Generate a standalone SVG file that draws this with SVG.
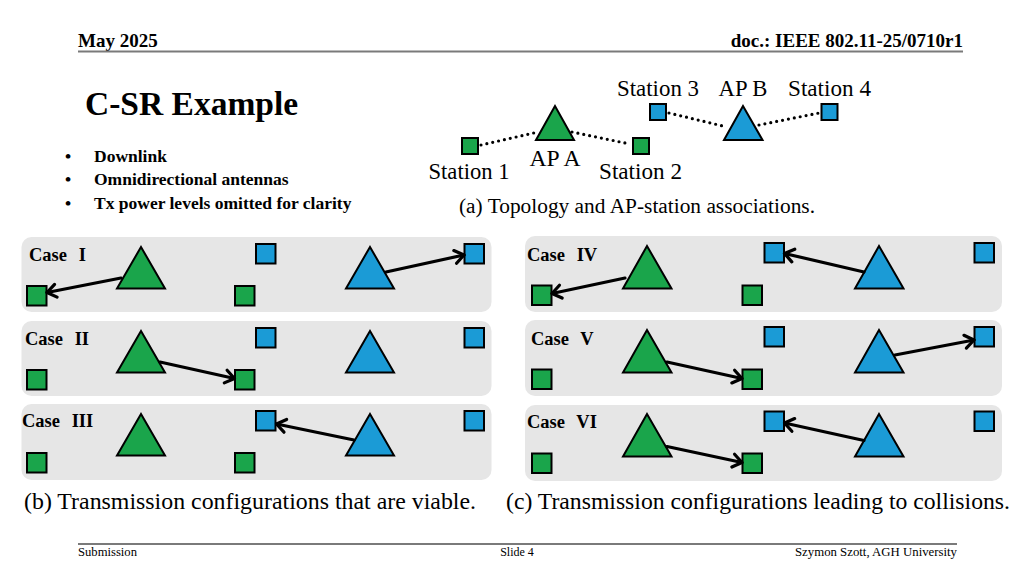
<svg xmlns="http://www.w3.org/2000/svg" width="1024" height="576" viewBox="0 0 1024 576">
<style>
text{font-family:"Liberation Serif","Times New Roman",serif;fill:#000}
.hdr{font-size:19px;font-weight:bold}
.ftr{font-size:12px}
.bul{font-size:17.5px;font-weight:bold}
.lbl{font-size:22.5px}
.cap{font-size:23px}
.case{font-size:18.5px;font-weight:bold;word-spacing:7px}
.g{fill:#1aa54b;stroke:#000;stroke-width:2}
.b{fill:#1b9bd6;stroke:#000;stroke-width:2}
.panel{fill:#e6e6e6}
.dot{stroke:#000;stroke-width:3.2;stroke-linecap:round;stroke-dasharray:0 6;fill:none}
.arr{stroke:#000;stroke-width:3.2;stroke-linecap:round;fill:none;marker-end:url(#ah)}
</style>
<defs>
<marker id="ah" markerUnits="userSpaceOnUse" markerWidth="18" markerHeight="18" viewBox="0 0 18 18" refX="13" refY="9" orient="auto">
<path d="M4,2.5 L13,9 L4,15.5" fill="none" stroke="#000" stroke-width="3.2" stroke-linecap="round" stroke-linejoin="round"/>
</marker>
<rect id="sq" width="19.5" height="19.5"/>
</defs>
<rect width="1024" height="576" fill="#fff"/>

<g id="header">
<text class="hdr" x="78" y="47">May 2025</text>
<text class="hdr" x="963" y="47" text-anchor="end">doc.: IEEE 802.11-25/0710r1</text>
<line x1="78" y1="51.5" x2="963" y2="51.5" stroke="#7a7a7a" stroke-width="2"/>
</g>

<g id="title">
<text x="85" y="115" font-size="33.5" font-weight="bold">C-SR Example</text>
<text class="bul" x="65" y="161.5">•</text><text class="bul" x="94" y="161.5">Downlink</text>
<text class="bul" x="65" y="185">•</text><text class="bul" x="94" y="185">Omnidirectional antennas</text>
<text class="bul" x="65" y="208.5">•</text><text class="bul" x="94" y="208.5">Tx power levels omitted for clarity</text>
</g>

<g id="topology">
<g id="topo-connectors">
<line class="dot" x1="481" y1="145" x2="538" y2="132"/>
<line class="dot" x1="572" y1="132" x2="630" y2="144"/>
<line class="dot" x1="669" y1="113" x2="727" y2="127"/>
<line class="dot" x1="759" y1="125" x2="819" y2="113"/>
</g>
<g id="station1"><rect class="g" x="462" y="138" width="16" height="16"/><text class="lbl" x="469" y="179" text-anchor="middle" textLength="81" lengthAdjust="spacingAndGlyphs">Station 1</text></g>
<g id="apA"><polygon class="g" points="555,106 536,140 574,140"/><text class="lbl" x="555" y="165.5" text-anchor="middle" textLength="51" lengthAdjust="spacingAndGlyphs">AP A</text></g>
<g id="station2"><rect class="g" x="633" y="138" width="16" height="16"/><text class="lbl" x="640.5" y="179" text-anchor="middle" textLength="83" lengthAdjust="spacingAndGlyphs">Station 2</text></g>
<g id="station3"><rect class="b" x="650" y="104" width="16" height="16"/><text class="lbl" x="658" y="95.5" text-anchor="middle" textLength="82" lengthAdjust="spacingAndGlyphs">Station 3</text></g>
<g id="apB"><polygon class="b" points="743,106 724,140 762.5,140"/><text class="lbl" x="743" y="95.5" text-anchor="middle" textLength="49" lengthAdjust="spacingAndGlyphs">AP B</text></g>
<g id="station4"><rect class="b" x="821.5" y="104" width="16" height="16"/><text class="lbl" x="829.5" y="95.5" text-anchor="middle" textLength="83" lengthAdjust="spacingAndGlyphs">Station 4</text></g>
<text x="459" y="213" font-size="20.5" textLength="356" lengthAdjust="spacingAndGlyphs">(a) Topology and AP-station associations.</text>
</g>

<g id="caseI">
<rect class="panel" x="21.5" y="237" width="470" height="75" rx="10"/>
<text class="case" x="29" y="260.7">Case I</text>
<use href="#sq" class="g" x="27" y="286"/><use href="#sq" class="g" x="235" y="286"/>
<use href="#sq" class="b" x="256" y="244"/><use href="#sq" class="b" x="464.5" y="244"/>
<polygon class="g" points="141,247 117,288.5 165,288.5"/>
<polygon class="b" points="370,247 346,288.5 394,288.5"/>
</g>
<g id="caseII">
<rect class="panel" x="21.5" y="321" width="470" height="75" rx="10"/>
<text class="case" x="25" y="344.5">Case II</text>
<use href="#sq" class="g" x="27" y="370"/><use href="#sq" class="g" x="235" y="370"/>
<use href="#sq" class="b" x="256" y="328"/><use href="#sq" class="b" x="464.5" y="328"/>
<polygon class="g" points="141,331 117,372.5 165,372.5"/>
<polygon class="b" points="370,331 346,372.5 394,372.5"/>
</g>
<g id="caseIII">
<rect class="panel" x="21.5" y="404" width="470" height="76" rx="10"/>
<text class="case" x="22" y="427">Case III</text>
<use href="#sq" class="g" x="27" y="453"/><use href="#sq" class="g" x="235" y="453"/>
<use href="#sq" class="b" x="256" y="411"/><use href="#sq" class="b" x="464.5" y="411"/>
<polygon class="g" points="141,414 117,455.5 165,455.5"/>
<polygon class="b" points="370,414 346,455.5 394,455.5"/>
</g>

<g id="caseIV">
<rect class="panel" x="525" y="236" width="477" height="76" rx="10"/>
<text class="case" x="527" y="260.7">Case IV</text>
<use href="#sq" class="g" x="532" y="285.5"/><use href="#sq" class="g" x="742.5" y="285.5"/>
<use href="#sq" class="b" x="764.5" y="243"/><use href="#sq" class="b" x="974.5" y="243"/>
<polygon class="g" points="647,246 623,288.5 671.5,288.5"/>
<polygon class="b" points="879,246 855,288.5 903.5,288.5"/>
</g>
<g id="caseV">
<rect class="panel" x="525" y="320" width="477" height="76" rx="10"/>
<text class="case" x="531" y="345">Case V</text>
<use href="#sq" class="g" x="532" y="369.5"/><use href="#sq" class="g" x="742.5" y="369.5"/>
<use href="#sq" class="b" x="764.5" y="327"/><use href="#sq" class="b" x="974.5" y="327"/>
<polygon class="g" points="647,330 623,372.5 671.5,372.5"/>
<polygon class="b" points="879,330 855,372.5 903.5,372.5"/>
</g>
<g id="caseVI">
<rect class="panel" x="525" y="405" width="477" height="76" rx="10"/>
<text class="case" x="527" y="428">Case VI</text>
<use href="#sq" class="g" x="532" y="453.5"/><use href="#sq" class="g" x="742.5" y="453.5"/>
<use href="#sq" class="b" x="764.5" y="411.5"/><use href="#sq" class="b" x="974.5" y="411.5"/>
<polygon class="g" points="647,414 623,456.5 671.5,456.5"/>
<polygon class="b" points="879,414 855,456.5 903.5,456.5"/>
</g>

<g id="connectors">
<line class="arr" x1="121" y1="278" x2="47" y2="292.5"/>
<line class="arr" x1="386" y1="272" x2="464" y2="255"/>
<line class="arr" x1="160" y1="362" x2="234.5" y2="378.5"/>
<line class="arr" x1="354" y1="440" x2="276.5" y2="424"/>
<line class="arr" x1="625" y1="278" x2="552" y2="293.5"/>
<line class="arr" x1="864" y1="272" x2="784.5" y2="253.5"/>
<line class="arr" x1="667" y1="362" x2="742" y2="378.5"/>
<line class="arr" x1="895" y1="355" x2="974" y2="340"/>
<line class="arr" x1="667" y1="446.5" x2="742" y2="462.5"/>
<line class="arr" x1="864" y1="440.5" x2="784.5" y2="423"/>
</g>

<g id="captions">
<text class="cap" x="24" y="509" textLength="452" lengthAdjust="spacingAndGlyphs">(b) Transmission configurations that are viable.</text>
<text class="cap" x="506" y="509" textLength="504" lengthAdjust="spacingAndGlyphs">(c) Transmission configurations leading to collisions.</text>
</g>

<g id="footer">
<line x1="78" y1="544" x2="957" y2="544" stroke="#7a7a7a" stroke-width="2"/>
<text class="ftr" x="78" y="556" textLength="59" lengthAdjust="spacingAndGlyphs">Submission</text>
<text class="ftr" x="517" y="556" text-anchor="middle">Slide 4</text>
<text class="ftr" x="957" y="556" text-anchor="end" textLength="162" lengthAdjust="spacingAndGlyphs">Szymon Szott, AGH University</text>
</g>
</svg>
